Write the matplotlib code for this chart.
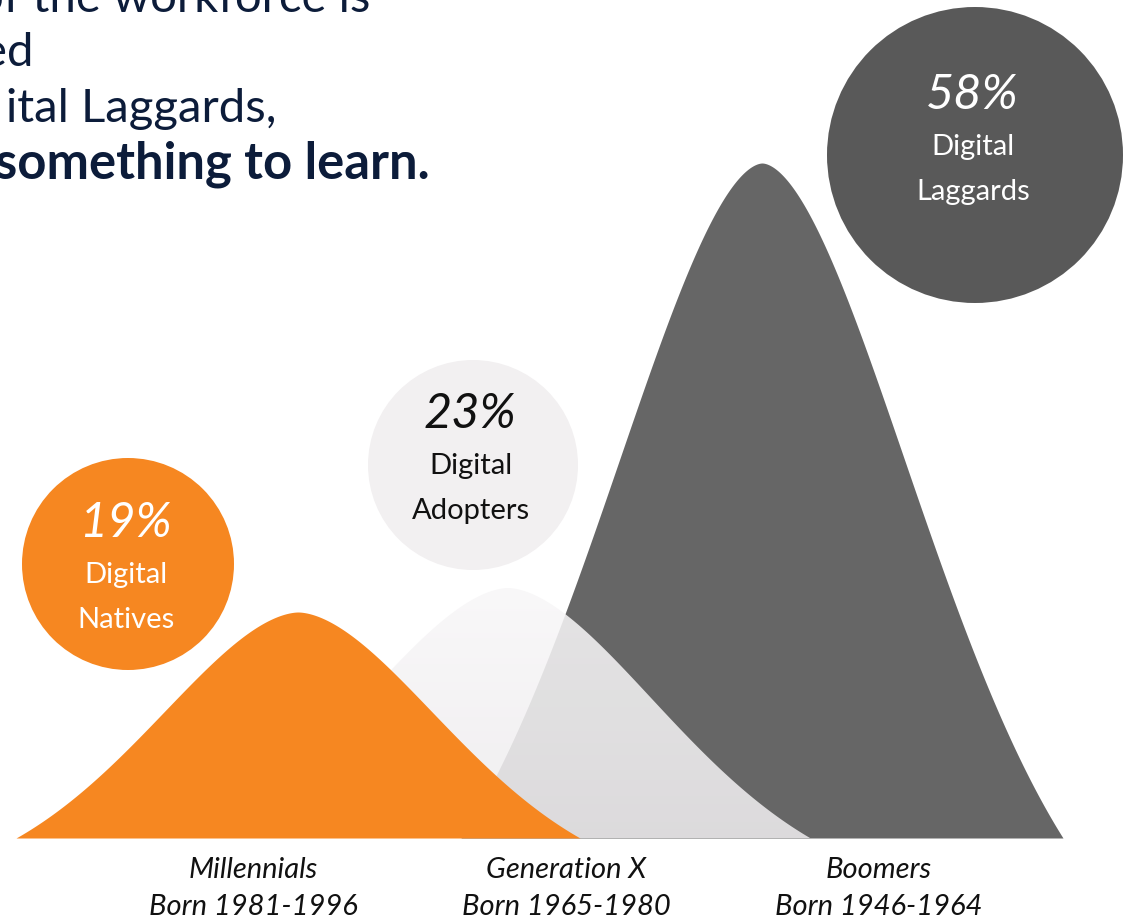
import numpy as np
import matplotlib
matplotlib.use("Agg")
import matplotlib.pyplot as plt
from matplotlib.patches import Circle, Polygon

# ---------------- data ----------------
groups = ["Millennials", "Generation X", "Boomers"]
born = ["Born 1981-1996", "Born 1965-1980", "Born 1946-1964"]
shares = [19, 23, 58]
segments = ["Digital\nNatives", "Digital\nAdopters", "Digital\nLaggards"]

# mountain geometry (pixel-like data units, y grows downward)
peak_x = [298, 508, 762]
peak_h = [226, 250, 675]
half_span = [282, 302, 301]
shape_p = [1.75, 1.75, 1.75]

headline = ["of the workforce is", "ed", "ital Laggards,", "something to learn."]

# ---------------- styling ----------------
W, H = 1124, 923
BASE = 838
ORANGE = "#F68721"
DARK_MTN = "#666666"
DARK_CIRC = "#595959"
LIGHT_CIRC = "#F2F0F1"
NAVY = "#0C1C3A"

fig = plt.figure(figsize=(W / 100, H / 100), dpi=100)
ax = fig.add_axes([0, 0, 1, 1])
ax.set_axis_off()


def mountain(i):
    L = half_span[i]
    s = 0.765 * L
    p = shape_p[i]
    x = np.linspace(peak_x[i] - L, peak_x[i] + L, 800)
    f = np.exp(-np.abs((x - peak_x[i]) / s) ** p)
    fe = np.exp(-(L / s) ** p)
    y = peak_h[i] * (f - fe) / (1 - fe)
    return x, BASE - y


# Boomers (dark) at back
x2, y2 = mountain(2)
ax.fill_between(x2, BASE, y2, color=DARK_MTN, lw=0, zorder=1)

# Generation X (light, semi-transparent with soft vertical gradient)
x1, y1 = mountain(1)
verts = np.column_stack([np.r_[x1, x1[::-1]], np.r_[y1, np.full_like(y1, BASE)]])
poly = Polygon(verts, closed=True, facecolor="none", edgecolor="none", zorder=2)
ax.add_patch(poly)
n = 256
t = np.linspace(0, 1, n)[:, None]
top = np.array([0.972, 0.968, 0.972])
bot = np.array([0.935, 0.928, 0.935])
rgb = top * (1 - t) + bot * t
grad = np.zeros((n, 1, 4))
grad[:, 0, :3] = rgb
grad[:, 0, 3] = 0.875
im = ax.imshow(grad, extent=(x1.min(), x1.max(), BASE, y1.min()), origin="upper",
               aspect="auto", zorder=2, interpolation="bilinear")
im.set_clip_path(poly)

# Millennials (orange) in front
x0, y0 = mountain(0)
ax.fill_between(x0, BASE, y0, color=ORANGE, lw=0, zorder=3)

# ---------------- circles ----------------
circ_xy = [(128, 564), (473, 465), (975, 155)]
circ_r = [106, 105, 148]
circ_col = [ORANGE, LIGHT_CIRC, DARK_CIRC]
txt_col = ["white", "#111111", "white"]
pct_y = [523, 414, 95]
for i in range(3):
    cx, cy = circ_xy[i]
    ax.add_patch(Circle((cx, cy), circ_r[i], facecolor=circ_col[i], edgecolor="none", zorder=4))
    ax.text(cx - 3, pct_y[i], f"{shares[i]}%", ha="center", va="center",
            fontsize=35, style="italic", color=txt_col[i], family="Lato", zorder=5)
    l1, l2 = segments[i].split("\n")
    ax.text(cx - 2, pct_y[i] + 52, l1, ha="center", va="center",
            fontsize=21, color=txt_col[i], family="Lato", zorder=5)
    ax.text(cx - 2, pct_y[i] + 97, l2, ha="center", va="center",
            fontsize=21, color=txt_col[i], family="Lato", zorder=5)

# ---------------- bottom labels ----------------
label_x = [253, 566, 879]
for i in range(3):
    ax.text(label_x[i], 870, groups[i], ha="center", va="center", fontsize=21,
            style="italic", color="#111111", family="Lato", zorder=5)
    ax.text(label_x[i], 907, born[i], ha="center", va="center", fontsize=21,
            style="italic", color="#111111", family="Lato", zorder=5)

# ---------------- headline (cropped at the figure edge, as in the source) ----------------
head_right = [370, 33, 276, 430]
head_base = [12, 66, 122, 178]
head_w = ["normal", "normal", "normal", "bold"]
head_fs = [34, 34, 34, 36.5]
for s, xr, yb, w, fs in zip(headline, head_right, head_base, head_w, head_fs):
    ax.text(xr, yb, s, ha="right", va="baseline", fontsize=fs, color=NAVY,
            family="Lato", fontweight=w, zorder=5)

ax.set_xlim(0, W)
ax.set_ylim(H, 0)
fig.savefig("out.png", dpi=100)
